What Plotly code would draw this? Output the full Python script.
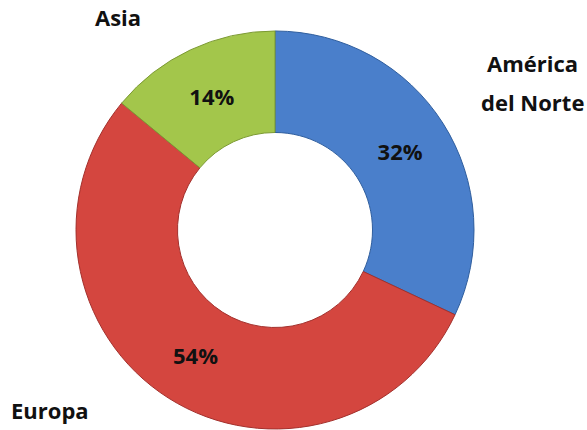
import plotly.graph_objects as go

# Data
regions = ["América del Norte", "Europa", "Asia"]
shares = [32, 54, 14]
slice_colors = ["#4A7FCB", "#D4463F", "#A3C64B"]
edge_colors = ["#2F5E9E", "#A3302C", "#7C9A33"]

W, H = 587, 430
cx, cy, R = 275, 230, 199  # pixel geometry of the ring

fig = go.Figure(
    go.Pie(
        labels=regions,
        values=shares,
        hole=0.49,
        sort=False,
        direction="clockwise",
        rotation=0,
        marker=dict(colors=slice_colors, line=dict(color=edge_colors, width=1)),
        textinfo="percent",
        textposition="inside",
        insidetextorientation="horizontal",
        textfont=dict(family="Open Sans", size=22, color="#111111", weight="bold"),
        showlegend=False,
        hoverinfo="label+percent",
        domain=dict(
            x=[(cx - R) / W, (cx + R) / W],
            y=[(H - cy - R) / H, (H - cy + R) / H],
        ),
    )
)

label_font = dict(family="Open Sans", size=22, color="#111111", weight="bold")
ann = [
    ("Asia", 118, 17),
    ("América", 532, 63),
    ("del Norte", 532, 102),
    ("Europa", 50, 410),
]
for txt, x, y in ann:
    fig.add_annotation(
        text=txt, x=x / W, y=1 - y / H, xref="paper", yref="paper",
        xanchor="center", yanchor="middle", showarrow=False, font=label_font,
    )

fig.update_layout(
    width=W, height=H,
    margin=dict(l=0, r=0, t=0, b=0),
    paper_bgcolor="white",
    plot_bgcolor="white",
)

fig.write_html(
    "out.html",
    config={"displayModeBar": False},
    post_script="document.body.style.margin='0';document.body.style.overflow='hidden';",
)
